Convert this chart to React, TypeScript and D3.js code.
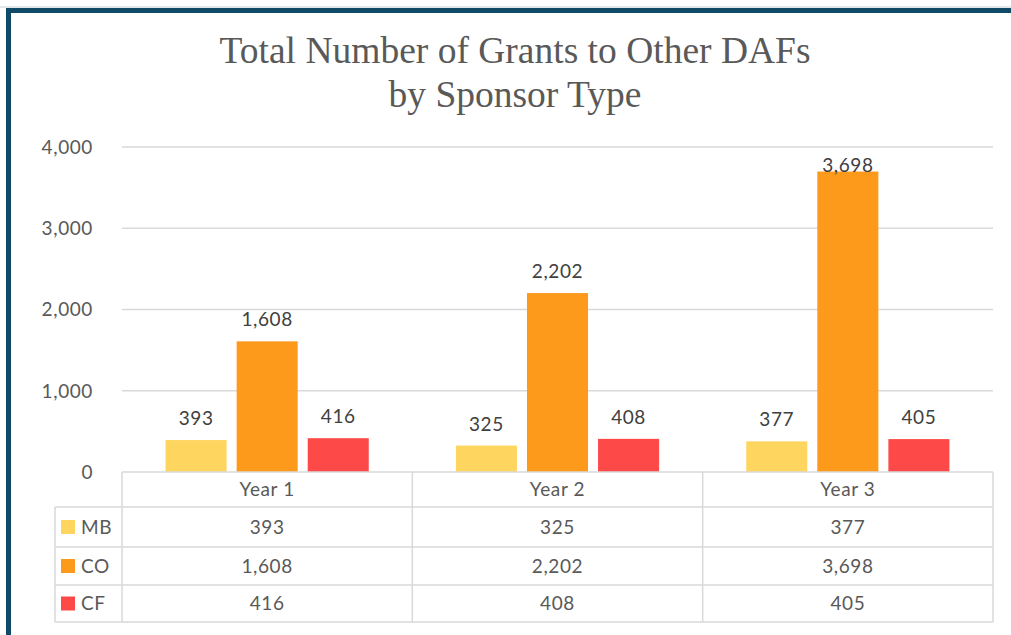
import React from "react";
import * as d3 from "d3";

const categories = ["Year 1", "Year 2", "Year 3"];
const seriesNames = ["MB", "CO", "CF"];
const mbValues = [393, 325, 377];
const coValues = [1608, 2202, 3698];
const cfValues = [416, 408, 405];
const yTicks = [0, 1000, 2000, 3000, 4000];
const titleLines = ["Total Number of Grants to Other DAFs", "by Sponsor Type"];

const seriesValues = [mbValues, coValues, cfValues];
const colors = ["#FED55F", "#FD991B", "#FE4949"];

const W = 1011;
const H = 635;
const plotLeft = 122;
const plotRight = 993;
const plotTop = 147;
const plotBottom = 472;
const rowYs = [472, 507, 547, 585, 622];
const legendLeft = 55;

const fmt = d3.format(",");

export default function App() {
  const x = d3.scaleBand<string>().domain(categories).range([plotLeft, plotRight]).padding(0);
  const inner = d3
    .scaleBand<string>()
    .domain(seriesNames)
    .range([0, x.bandwidth()])
    .paddingInner(0.141)
    .paddingOuter(0.613);
  const y = d3.scaleLinear().domain([0, 4000]).range([plotBottom, plotTop]);

  const font = "Lato, 'Open Sans', sans-serif";
  const serif = "'Liberation Serif', 'Times New Roman', Times, serif";
  const textColor = "#595959";
  const lineColor = "#D9D9D9";

  return (
    <svg
      width={W}
      height={H}
      style={{ position: "absolute", left: 0, top: 0, display: "block", background: "#fff" }}
    >
      {/* frame */}
      <line x1={0} x2={W} y1={7} y2={7} stroke="#C8CED2" strokeWidth={1} />
      <rect x={6} y={8} width={W} height={5} fill="#0F4A66" />
      <rect x={6} y={8} width={5} height={H} fill="#0F4A66" />

      {/* title */}
      {titleLines.map((t, i) => (
        <text
          key={t}
          x={515}
          y={63 + i * 44}
          textAnchor="middle"
          style={{ fontFamily: serif, fontSize: "37.5px", fill: textColor }}
        >
          {t}
        </text>
      ))}

      {/* gridlines & y ticks */}
      {yTicks.map((t) => (
        <g key={t}>
          {t > 0 && (
            <line x1={plotLeft} x2={plotRight} y1={y(t)} y2={y(t)} stroke={lineColor} strokeWidth={1.3} />
          )}
          <text
            x={93}
            y={y(t)}
            dy="0.36em"
            textAnchor="end"
            fontFamily={font}
            fontSize={19}
            fill={textColor}
            letterSpacing={0.6}
          >
            {fmt(t)}
          </text>
        </g>
      ))}

      {/* bars */}
      {categories.map((c, ci) => (
        <g key={c}>
          {seriesNames.map((s, si) => {
            const v = seriesValues[si][ci];
            const bx = (x(c) ?? 0) + (inner(s) ?? 0);
            const by = y(v);
            const labelY = Math.max(by - 15, 172);
            return (
              <g key={s}>
                <rect x={bx} y={by} width={inner.bandwidth()} height={plotBottom - by} fill={colors[si]} />
                <text
                  x={bx + inner.bandwidth() / 2}
                  y={labelY}
                  textAnchor="middle"
                  fontFamily={font}
                  fontSize={19}
                  fill="#404040"
                  letterSpacing={0.6}
                >
                  {fmt(v)}
                </text>
              </g>
            );
          })}
        </g>
      ))}

      {/* data table */}
      <g stroke={lineColor} strokeWidth={1.5} fill="none">
        <line x1={plotLeft} x2={plotRight} y1={rowYs[0]} y2={rowYs[0]} />
        {rowYs.slice(1).map((ry) => (
          <line key={ry} x1={legendLeft} x2={plotRight} y1={ry} y2={ry} />
        ))}
        <line x1={legendLeft} x2={legendLeft} y1={rowYs[1]} y2={rowYs[4]} />
        <line x1={plotLeft} x2={plotLeft} y1={rowYs[0]} y2={rowYs[4]} />
        {categories.map((c) => (
          <line
            key={c}
            x1={(x(c) ?? 0) + x.bandwidth()}
            x2={(x(c) ?? 0) + x.bandwidth()}
            y1={rowYs[0]}
            y2={rowYs[4]}
          />
        ))}
      </g>
      <g fontFamily={font} fontSize={19} fill={textColor} textAnchor="middle" letterSpacing={0.6}>
        {categories.map((c) => (
          <text key={c} x={(x(c) ?? 0) + x.bandwidth() / 2} y={(rowYs[0] + rowYs[1]) / 2} dy="0.36em">
            {c}
          </text>
        ))}
        {seriesNames.map((s, si) =>
          categories.map((c, ci) => (
            <text
              key={s + c}
              x={(x(c) ?? 0) + x.bandwidth() / 2}
              y={(rowYs[si + 1] + rowYs[si + 2]) / 2}
              dy="0.36em"
            >
              {fmt(seriesValues[si][ci])}
            </text>
          ))
        )}
      </g>
      {seriesNames.map((s, si) => {
        const cy = (rowYs[si + 1] + rowYs[si + 2]) / 2;
        return (
          <g key={s}>
            <rect x={61} y={cy - 7} width={14} height={14} fill={colors[si]} />
            <text
              x={81}
              y={cy}
              dy="0.36em"
              fontFamily={font}
              fontSize={19}
              fill={textColor}
              letterSpacing={0.6}
            >
              {s}
            </text>
          </g>
        );
      })}
    </svg>
  );
}
